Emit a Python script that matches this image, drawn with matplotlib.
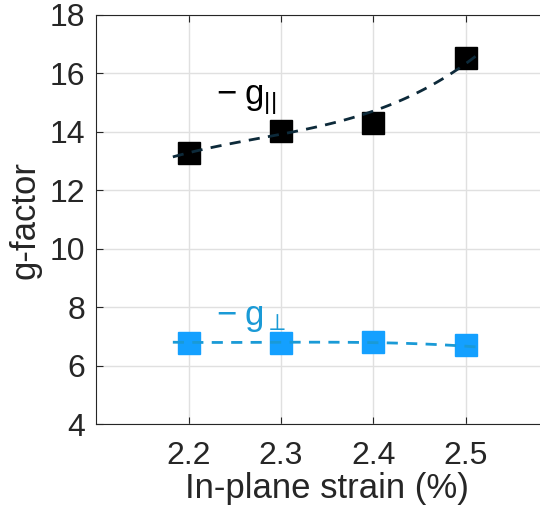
import numpy as np
import matplotlib
matplotlib.use("Agg")
import matplotlib.pyplot as plt

plt.rcParams['font.family'] = ['Liberation Sans', 'DejaVu Sans']
plt.rcParams['mathtext.fontset'] = 'custom'
plt.rcParams['mathtext.rm'] = 'Liberation Sans'
plt.rcParams['mathtext.it'] = 'Liberation Sans'

strain = [2.2, 2.3, 2.4, 2.5]
g_par = [13.27, 14.02, 14.31, 16.53]
g_perp = [6.77, 6.77, 6.80, 6.71]

# dashed fit curves, read at a few strain values
fit_x = [2.183, 2.2, 2.25, 2.3, 2.35, 2.4, 2.45, 2.5, 2.515]
fit_par = [13.13, 13.30, 13.62, 13.93, 14.27, 14.66, 15.40, 16.41, 16.64]
fit_perp = [6.80, 6.80, 6.80, 6.80, 6.80, 6.79, 6.75, 6.67, 6.63]

xticks = [2.2, 2.3, 2.4, 2.5]
yticks = [4, 6, 8, 10, 12, 14, 16, 18]

fig = plt.figure(figsize=(5.4, 5.16), dpi=100)
ax = fig.add_axes([0.178, 0.178, 0.856, 0.793])

# smooth the read curves with a cubic
xf = np.linspace(fit_x[0], fit_x[-1], 100)
ax.plot(xf, np.polyval(np.polyfit(fit_x, fit_par, 3), xf),
        color='#0d2a3a', lw=2, dashes=(4, 3), zorder=3)
ax.plot(xf, np.polyval(np.polyfit(fit_x, fit_perp, 3), xf),
        color='#1a9ad6', lw=2, dashes=(4, 3), zorder=3)

ax.plot(strain, g_par, 's', color='black', ms=15.5, zorder=2)
ax.plot(strain, g_perp, 's', color='#14a0ff', ms=15.5, zorder=2)

ax.text(2.23, 15.1, r'$\mathregular{-\;g_{||}}$', fontsize=25, color='black', va='center')
ax.text(2.23, 7.65, r'$\mathregular{-\;g_{\perp}}$', fontsize=25, color='#1a9ad6', va='center')

ax.set_xlim(2.1, 2.6)
ax.set_ylim(4, 18)
ax.set_xticks(xticks)
ax.set_yticks(yticks)
ax.set_xticklabels([f"{t:.1f}" for t in xticks])
ax.tick_params(direction='in', labelsize=23, color='#262626', labelcolor='#262626',
               top=True, length=5, pad=8)
ax.tick_params(axis='x', pad=12)
ax.grid(True, color='#e0e0e0', lw=1)
ax.set_axisbelow(True)
for s in ax.spines.values():
    s.set_color('#262626')
ax.set_xlabel('In-plane strain (%)', fontsize=25, color='#262626', labelpad=1)
ax.set_ylabel('g-factor', fontsize=25, color='#262626', labelpad=6)

fig.savefig('out.png', dpi=100)
